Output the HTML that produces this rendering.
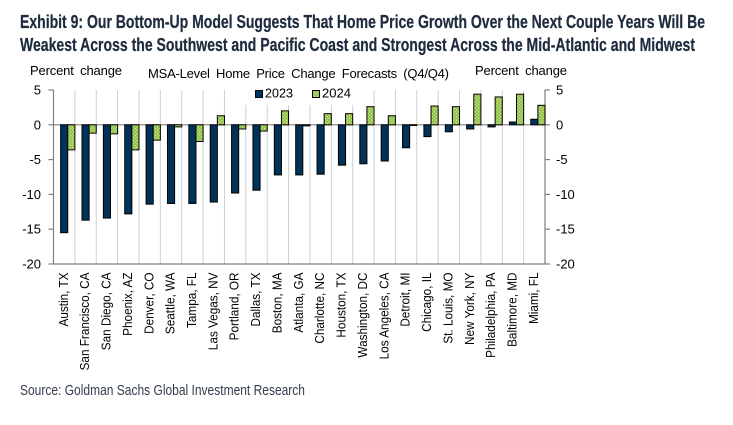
<!DOCTYPE html>
<html lang="en">
<head>
<meta charset="utf-8">
<title>Exhibit 9</title>
<style>
html,body{margin:0;padding:0;background:#fff;}
body{width:733px;height:425px;overflow:hidden;}
svg{display:block;}
text{font-family:"Liberation Sans",Arial,sans-serif;fill:#000;}
.head{font-weight:700;font-size:18px;fill:#1f2c3f;stroke:#1f2c3f;stroke-width:0.25px;}
.src{font-size:14.5px;fill:#333d4c;}
.lab{font-size:13px;}
.cat{font-size:12px;}
.wide{word-spacing:3px;}
</style>
</head>
<body>
<svg id="chart" width="733" height="425" viewBox="0 0 733 425" xmlns="http://www.w3.org/2000/svg">
<defs>
<pattern id="dots" width="3.4" height="3.4" patternUnits="userSpaceOnUse">
<rect width="3.4" height="3.4" fill="#8fc03c"></rect>
<rect x="0.4" y="0.6" width="1" height="1" fill="#ffffff"></rect>
<rect x="2.1" y="2.3" width="1" height="1" fill="#ffffff"></rect>
</pattern>
</defs>
<text class="head" x="20" y="28" textLength="685" lengthAdjust="spacingAndGlyphs">Exhibit 9: Our Bottom-Up Model Suggests That Home Price Growth Over the Next Couple Years Will Be</text>
<text class="head" x="20" y="51" textLength="675" lengthAdjust="spacingAndGlyphs">Weakest Across the Southwest and Pacific Coast and Strongest Across the Mid-Atlantic and Midwest</text>
<text class="lab wide" x="30" y="75" textLength="92" lengthAdjust="spacing">Percent change</text>
<text class="lab wide" x="148" y="78" textLength="301" lengthAdjust="spacing">MSA-Level Home Price Change Forecasts (Q4/Q4)</text>
<text class="lab wide" x="475" y="75" textLength="92" lengthAdjust="spacing">Percent change</text>
<g id="grid"></g>
<rect x="235" y="89" width="127" height="16" fill="#fff"></rect>
<g id="axes"></g>
<g id="bars"></g>
<g id="cats"></g>
<g>
<rect x="255.500" y="90.500" width="7" height="7" fill="#003359" stroke="#000"></rect>
<text class="lab" x="265" y="97.500" textLength="28" lengthAdjust="spacingAndGlyphs">2023</text>
<rect x="312.500" y="90.500" width="7" height="7" fill="url(#dots)" stroke="#000"></rect>
<text class="lab" x="322" y="97.500" textLength="29" lengthAdjust="spacingAndGlyphs">2024</text>
</g>
<text class="src" x="20" y="395" textLength="285" lengthAdjust="spacingAndGlyphs">Source: Goldman Sachs Global Investment Research</text>
</svg>
<script>
const categories = ["Austin, TX","San Francisco, CA","San Diego, CA","Phoenix, AZ","Denver, CO","Seattle, WA","Tampa, FL","Las Vegas, NV","Portland, OR","Dallas, TX","Boston, MA","Atlanta, GA","Charlotte, NC","Houston, TX","Washington, DC","Los Angeles, CA","Detroit, MI","Chicago, IL","St. Louis, MO","New York, NY","Philadelphia, PA","Baltimore, MD","Miami, FL"];
const values2023 = [-15.5,-13.7,-13.4,-12.8,-11.4,-11.3,-11.3,-11.1,-9.8,-9.4,-7.2,-7.2,-7.1,-5.8,-5.6,-5.2,-3.3,-1.7,-1.0,-0.6,-0.3,0.4,0.8];
const values2024 = [-3.6,-1.2,-1.3,-3.6,-2.2,-0.3,-2.4,1.3,-0.6,-0.9,2.0,-0.15,1.6,1.6,2.6,1.3,-0.1,2.7,2.6,4.4,4.0,4.4,2.8];
const yTicks = [5,0,-5,-10,-15,-20];

const NS = "http://www.w3.org/2000/svg";
const plot = {left:53.5, right:545, top:90, bottom:264};
const yMax = yTicks[0], yMin = yTicks[yTicks.length-1];
function yScale(v){ return plot.top + (yMax - v) * (plot.bottom - plot.top) / (yMax - yMin); }
function xBand(i){ return plot.left + i * (plot.right - plot.left) / categories.length; }
function mk(tag, parent, attrs){
  const el = document.createElementNS(NS, tag);
  for (const k in attrs) el.setAttribute(k, attrs[k]);
  parent.appendChild(el);
  return el;
}
const grid = document.getElementById('grid');
const axes = document.getElementById('axes');
const bars = document.getElementById('bars');
const cats = document.getElementById('cats');
const bandW = xBand(1) - xBand(0);
const barW = bandW / 3;

for (let i = 1; i < categories.length; i++) {
  const x = xBand(i);
  const g = mk('line', grid, {x1:x, x2:x, y1:plot.top, y2:plot.bottom, stroke:'#cfcfcf', 'stroke-width':1});
  
  
}

const leftAxis = mk('line', axes, {x1:plot.left, x2:plot.left, y1:plot.top, y2:plot.bottom, stroke:'#808080', 'stroke-width':1.2});


const rightAxis = mk('line', axes, {x1:plot.right, x2:plot.right, y1:plot.top, y2:plot.bottom, stroke:'#808080', 'stroke-width':1.2});


const baseLine = mk('line', axes, {x1:plot.left, x2:plot.right, y1:plot.bottom, y2:plot.bottom, stroke:'#808080', 'stroke-width':1.2});


const zeroLine = mk('line', axes, {x1:plot.left, x2:plot.right, y1:yScale(0), y2:yScale(0), stroke:'#808080', 'stroke-width':1.2});



yTicks.forEach(function(t){
  const y = yScale(t);
  const lt = mk('line', axes, {x1:plot.left-5, x2:plot.left, y1:y, y2:y, stroke:'#808080', 'stroke-width':1.2});
  
  
  const rt = mk('line', axes, {x1:plot.right, x2:plot.right+5, y1:y, y2:y, stroke:'#808080', 'stroke-width':1.2});
  
  
  const ll = mk('text', axes, {x:plot.left-12.5, y:y+4.5, 'text-anchor':'end', 'class':'lab'});
  
  
  ll.textContent = t;
  const rl = mk('text', axes, {x:plot.right+11, y:y+4.5, 'class':'lab'});
  
  
  rl.textContent = t;
});

function drawBar(x, v, fill, name){
  const y0 = yScale(0), y1 = yScale(v);
  const r = mk('rect', bars, {x:x, y:Math.min(y0,y1), width:barW, height:Math.abs(y1-y0), fill:fill, stroke:'#000', 'stroke-width':1});
  
  
}
categories.forEach(function(c, i){
  const x0 = xBand(i);
  drawBar(x0 + barW, values2023[i], '#003359', 'bar-2023');
  drawBar(x0 + 2*barW, values2024[i], 'url(#dots)', 'bar-2024');
  const cx = x0 + bandW/2 + 3.6;
  const t = mk('text', cats, {'class':'cat', 'text-anchor':'end', transform:'translate(' + cx + ',272.5) rotate(-90) scale(0.98,1.06)'});
  
  
  t.textContent = c;
});
</script>
</body>
</html>
